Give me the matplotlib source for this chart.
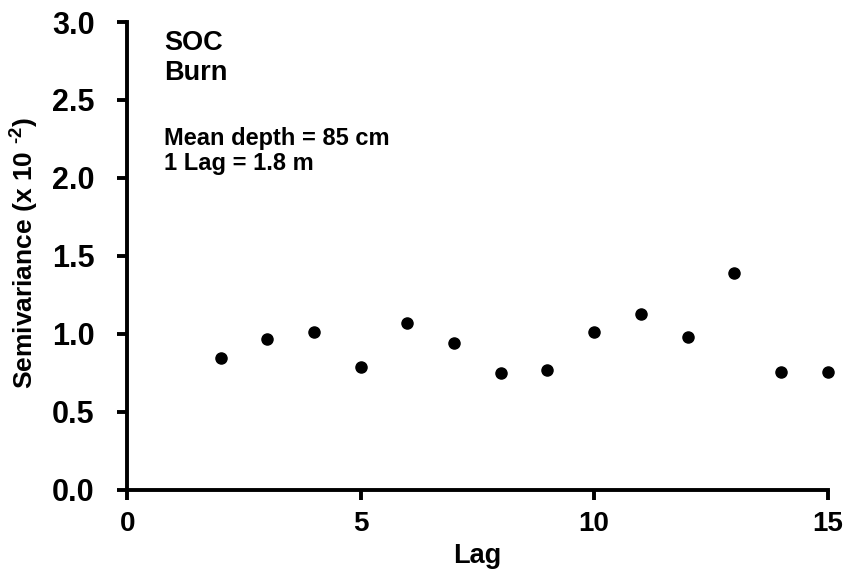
import matplotlib
matplotlib.use("Agg")
import matplotlib.pyplot as plt

plt.rcParams['font.family'] = ['Liberation Sans', 'DejaVu Sans']
plt.rcParams['font.weight'] = 'bold'
plt.rcParams['mathtext.fontset'] = 'custom'
plt.rcParams['mathtext.rm'] = 'Liberation Sans:bold'
plt.rcParams['mathtext.it'] = 'Liberation Sans:bold'
plt.rcParams['mathtext.bf'] = 'Liberation Sans:bold'

# Semivariogram of soil organic carbon, burn plot
lags = [2, 3, 4, 5, 6, 7, 8, 9, 10, 11, 12, 13, 14, 15]
semivariance = [0.846, 0.97, 1.015, 0.79, 1.07, 0.944, 0.748, 0.767,
                1.015, 1.126, 0.983, 1.391, 0.754, 0.754]

x_ticks = [0, 5, 10, 15]
y_ticks = [0.0, 0.5, 1.0, 1.5, 2.0, 2.5, 3.0]

fig = plt.figure(figsize=(8.48, 5.79), dpi=100)
ax = fig.add_axes([0.150, 0.154, 0.826, 0.808])

ax.plot(lags, semivariance, linestyle='none', marker='o', markersize=8,
        color='black', clip_on=False)

ax.set_xlim(0, 15)
ax.set_ylim(0, 3.0)
ax.set_xticks(x_ticks)
ax.set_yticks(y_ticks)
ax.set_yticklabels([f"{v:.1f}" for v in y_ticks])

for side in ('top', 'right'):
    ax.spines[side].set_visible(False)
for side in ('left', 'bottom'):
    ax.spines[side].set_linewidth(2.8)

ax.tick_params(axis='y', direction='out', length=7.5, width=2.8, labelsize=22, pad=16)
ax.tick_params(axis='x', direction='out', length=7.5, width=2.8, labelsize=20, pad=8)

ax.set_xlabel('Lag', fontsize=19.5, fontweight='bold')
ax.set_ylabel(r'Semivariance (x 10 $^{\text{-2}}$)', fontsize=19, fontweight='bold')
ax.xaxis.set_label_coords(0.5, -0.113)
ax.yaxis.set_label_coords(-0.123, 0.505)

ax.text(0.053, 0.940, 'SOC', transform=ax.transAxes, fontsize=19.5,
        fontweight='bold', va='baseline', ha='left')
ax.text(0.053, 0.876, 'Burn', transform=ax.transAxes, fontsize=19.5,
        fontweight='bold', va='baseline', ha='left')
ax.text(0.052, 0.737, 'Mean depth = 85 cm', transform=ax.transAxes, fontsize=17,
        fontweight='bold', va='baseline', ha='left')
ax.text(0.052, 0.684, '1 Lag = 1.8 m', transform=ax.transAxes, fontsize=17,
        fontweight='bold', va='baseline', ha='left')

fig.savefig('out.png', dpi=100)
